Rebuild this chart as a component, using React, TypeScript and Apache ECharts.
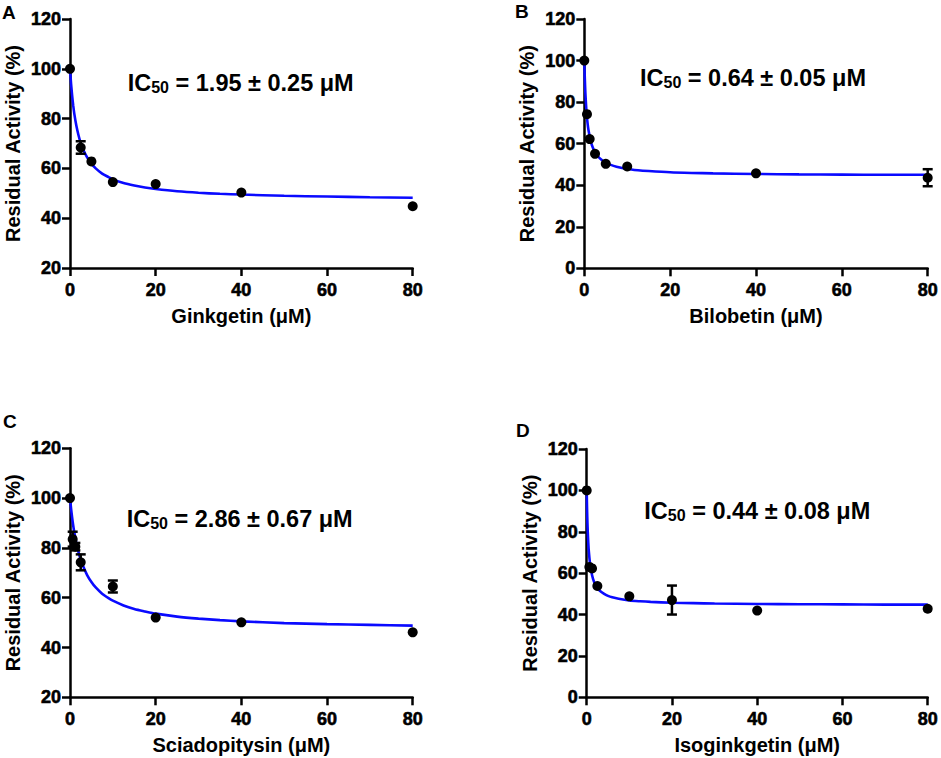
import React, { useEffect, useRef } from "react";
import * as echarts from "echarts";

// ---------- data ----------
const PANEL_LETTERS = ["A", "B", "C", "D"];
const COMPOUNDS = ["Ginkgetin (μM)", "Bilobetin (μM)", "Sciadopitysin (μM)", "Isoginkgetin (μM)"];
const IC50_VALUES = ["1.95 ± 0.25", "0.64 ± 0.05", "2.86 ± 0.67", "0.44 ± 0.08"];
const Y_MINS = [20, 0, 20, 0];
const Y_MAX = 120;
const Y_INTERVAL = 20;
const X_MAX = 80;
const X_INTERVAL = 20;

// measured points (concentration, residual activity, SD)
const CONC_A = [0, 2.5, 5, 10, 20, 40, 80];
const ACT_A = [100, 68.4, 62.8, 54.5, 53.7, 50.3, 44.8];
const SD_A = [0, 2.5, 0, 0, 0, 0, 0];

const CONC_B = [0, 0.625, 1.25, 2.5, 5, 10, 40, 80];
const ACT_B = [100, 74.2, 62.2, 55.1, 50.3, 49.0, 45.7, 43.6];
const SD_B = [0, 0, 0, 0, 0, 0, 0, 4.1];

const CONC_C = [0, 0.625, 1.25, 2.5, 10, 20, 40, 80];
const ACT_C = [100, 83.5, 80.5, 74.2, 64.5, 52.0, 50.1, 46.1];
const SD_C = [0, 3.0, 1.5, 3.2, 2.4, 0, 0, 0];

const CONC_D = [0, 0.625, 1.25, 2.5, 10, 20, 40, 80];
const ACT_D = [100, 63.0, 62.3, 53.8, 48.8, 47.0, 41.9, 42.8];
const SD_D = [0, 0, 0, 0, 0, 7.0, 0, 0];

// fitted curves
const CURVE_X_A = [0, 0.25, 0.5, 0.75, 1, 1.5, 2, 2.5, 3, 4, 5, 6, 7.5, 9, 10, 12.5, 15, 17.5, 20, 25, 30, 35, 40, 50, 60, 70, 80];
const CURVE_Y_A = [100, 94.0, 89.2, 85.3, 82.0, 77.0, 73.2, 70.2, 67.9, 64.4, 61.9, 60.0, 57.9, 56.5, 55.6, 54.1, 53.1, 52.3, 51.7, 50.8, 50.2, 49.8, 49.5, 49.0, 48.7, 48.4, 48.2];

const CURVE_X_B = [0, 0.1, 0.25, 0.5, 0.75, 1, 1.5, 2, 2.5, 3, 4, 5, 6, 7.5, 10, 12.5, 15, 20, 25, 30, 40, 50, 60, 70, 80];
const CURVE_Y_B = [100, 92.5, 84.4, 75.7, 70.0, 66.2, 61.1, 58.0, 55.8, 54.3, 52.2, 50.8, 49.9, 48.9, 47.8, 47.2, 46.8, 46.2, 45.9, 45.7, 45.4, 45.2, 45.1, 45.0, 45.0];

const CURVE_X_C = [0, 0.25, 0.5, 0.75, 1, 1.5, 2, 2.5, 3, 4, 5, 6, 7.5, 9, 10, 12.5, 15, 17.5, 20, 25, 30, 35, 40, 50, 60, 70, 80];
const CURVE_Y_C = [100, 95.8, 92.1, 89.0, 86.3, 81.8, 78.2, 75.3, 72.9, 69.1, 66.3, 64.1, 61.6, 59.8, 58.8, 56.9, 55.5, 54.5, 53.6, 52.4, 51.6, 51.0, 50.5, 49.8, 49.4, 49.1, 48.8];

const CURVE_X_D = [0, 0.05, 0.1, 0.175, 0.25, 0.375, 0.5, 0.75, 1, 1.5, 2, 2.5, 3, 4, 5, 6, 7.5, 10, 12.5, 15, 20, 25, 30, 40, 50, 60, 70, 80];
const CURVE_Y_D = [100, 94.4, 89.7, 84.1, 79.9, 74.5, 70.5, 65.1, 61.5, 57.1, 54.5, 52.8, 51.6, 50.1, 49.0, 48.3, 47.6, 46.8, 46.4, 46.1, 45.7, 45.5, 45.3, 45.1, 45.0, 44.9, 44.8, 44.8];

const CONCS = [CONC_A, CONC_B, CONC_C, CONC_D];
const ACTS = [ACT_A, ACT_B, ACT_C, ACT_D];
const SDS = [SD_A, SD_B, SD_C, SD_D];
const CURVE_XS = [CURVE_X_A, CURVE_X_B, CURVE_X_C, CURVE_X_D];
const CURVE_YS = [CURVE_Y_A, CURVE_Y_B, CURVE_Y_C, CURVE_Y_D];

// ---------- layout ----------
const GRIDS = [
  { left: 70, top: 19, width: 342.7, height: 249 },
  { left: 584.3, top: 19, width: 343.4, height: 249.3 },
  { left: 70, top: 448.3, width: 342.7, height: 249 },
  { left: 586.7, top: 449, width: 343.3, height: 248.3 },
];
const LETTER_POS = [
  [2, 12],
  [515, 11.5],
  [3, 421.5],
  [516, 430],
];
const IC_POS = [
  [127.7, 80.3],
  [640, 75.4],
  [126.7, 516.3],
  [644.3, 508.4],
];

const FONT = "'Liberation Sans', Arial, Helvetica, sans-serif";
const AXIS_W = 2.5;

export default function App() {
  const ref = useRef<HTMLDivElement>(null);
  useEffect(() => {
    if (!ref.current) return;
    const chart = echarts.init(ref.current, null, { renderer: "svg" });

    const xAxis: any[] = [];
    const yAxis: any[] = [];
    const series: any[] = [];
    const graphic: any[] = [];

    for (let i = 0; i < 4; i++) {
      xAxis.push({
        type: "value",
        gridIndex: i,
        min: 0,
        max: X_MAX,
        interval: X_INTERVAL,
        name: COMPOUNDS[i],
        nameLocation: "middle",
        nameGap: 38,
        nameTextStyle: { fontFamily: FONT, fontSize: 20, fontWeight: "bold", color: "#000" },
        axisLine: { show: true, onZero: false, lineStyle: { color: "#000", width: AXIS_W } },
        axisTick: { show: true, length: 8, lineStyle: { color: "#000", width: AXIS_W } },
        axisLabel: {
          margin: 13,
          fontFamily: FONT,
          fontSize: 18,
          fontWeight: "bold",
          color: "#000",
          textBorderColor: "#000",
          textBorderWidth: 0.6,
        },
        splitLine: { show: false },
      });
      yAxis.push({
        type: "value",
        gridIndex: i,
        min: Y_MINS[i],
        max: Y_MAX,
        interval: Y_INTERVAL,
        name: "Residual Activity (%)",
        nameLocation: "middle",
        nameGap: 47,
        nameTextStyle: { fontFamily: FONT, fontSize: 20, fontWeight: "bold", color: "#000" },
        axisLine: { show: true, onZero: false, lineStyle: { color: "#000", width: AXIS_W } },
        axisTick: { show: true, length: 8, lineStyle: { color: "#000", width: AXIS_W } },
        axisLabel: {
          margin: 9,
          fontFamily: FONT,
          fontSize: 18,
          fontWeight: "bold",
          color: "#000",
          textBorderColor: "#000",
          textBorderWidth: 0.6,
        },
        splitLine: { show: false },
      });

      const cx = CURVE_XS[i];
      const cy = CURVE_YS[i];
      series.push({
        type: "line",
        xAxisIndex: i,
        yAxisIndex: i,
        data: cx.map((x, k) => [x, cy[k]]),
        showSymbol: false,
        smooth: 0.25,
        lineStyle: { color: "#0a0aff", width: 2.6 },
        z: 2,
        silent: true,
      });

      const conc = CONCS[i];
      const act = ACTS[i];
      const sd = SDS[i];
      const errData = conc
        .map((c, k) => [c, act[k] - sd[k], act[k] + sd[k], sd[k]])
        .filter((d) => d[3] > 0);
      series.push({
        type: "custom",
        xAxisIndex: i,
        yAxisIndex: i,
        data: errData,
        z: 3,
        silent: true,
        renderItem: (params: any, api: any) => {
          const x = api.value(0);
          const lo = api.value(1);
          const hi = api.value(2);
          const p1 = api.coord([x, hi]);
          const p2 = api.coord([x, lo]);
          const w = 5;
          const st = { stroke: "#000", lineWidth: 2.5 };
          return {
            type: "group",
            children: [
              { type: "line", shape: { x1: p1[0], y1: p1[1], x2: p2[0], y2: p2[1] }, style: st },
              { type: "line", shape: { x1: p1[0] - w, y1: p1[1], x2: p1[0] + w, y2: p1[1] }, style: st },
              { type: "line", shape: { x1: p2[0] - w, y1: p2[1], x2: p2[0] + w, y2: p2[1] }, style: st },
            ],
          };
        },
      });

      series.push({
        type: "scatter",
        xAxisIndex: i,
        yAxisIndex: i,
        data: conc.map((c, k) => [c, act[k]]),
        symbol: "circle",
        symbolSize: 10,
        itemStyle: { color: "#000", opacity: 1 },
        z: 4,
        silent: true,
      });

      graphic.push({
        type: "text",
        x: LETTER_POS[i][0],
        y: LETTER_POS[i][1],
        style: {
          text: PANEL_LETTERS[i],
          fontFamily: FONT,
          fontSize: 19,
          fontWeight: "bold",
          fill: "#000",
          align: "left",
          verticalAlign: "middle",
        },
      });

      graphic.push({
        type: "text",
        x: IC_POS[i][0],
        y: IC_POS[i][1],
        style: {
          text: "{a|IC}{s|50}{a| = " + IC50_VALUES[i] + " μM}",
          align: "left",
          verticalAlign: "middle",
          fill: "#000",
          fontFamily: FONT,
          rich: {
            a: {
              fontFamily: FONT,
              fontSize: 23.5,
              fontWeight: "bold",
              fill: "#000",
              lineHeight: 30,
              verticalAlign: "bottom",
            },
            s: {
              fontFamily: FONT,
              fontSize: 16,
              fontWeight: "bold",
              fill: "#000",
              lineHeight: 15,
              verticalAlign: "bottom",
            },
          },
        },
      });
    }

    chart.setOption({
      animation: false,
      backgroundColor: "#fff",
      grid: GRIDS.map((g) => ({ ...g, containLabel: false })),
      xAxis,
      yAxis,
      series,
      graphic,
    });

    return () => chart.dispose();
  }, []);

  return (
    <div
      ref={ref}
      style={{ position: "fixed", left: 0, top: 0, width: 941, height: 758, background: "#fff" }}
    />
  );
}
